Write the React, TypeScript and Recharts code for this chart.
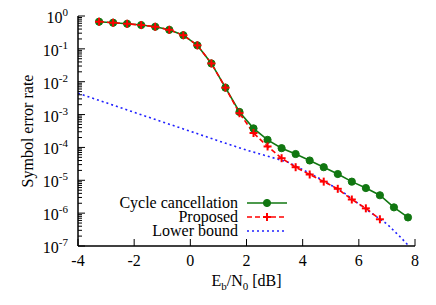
import React from "react";
import { LineChart, Line, XAxis, YAxis, Customized } from "recharts";

const ebn0 = [-3.25, -2.75, -2.25, -1.75, -1.25, -0.75, -0.25, 0.25, 0.75, 1.25, 1.75, 2.25, 2.75, 3.25, 3.75, 4.25, 4.75, 5.25, 5.75, 6.25, 6.75, 7.25, 7.75];
const cycleCancellation = [0.67, 0.625, 0.58, 0.53, 0.47, 0.38, 0.26, 0.128, 0.036, 0.0066, 0.0012, 3.8e-4, 1.7e-4, 9.5e-5, 6.3e-5, 4.0e-5, 2.5e-5, 1.55e-5, 9.1e-6, 5.8e-6, 3.5e-6, 1.5e-6, 7.4e-7];
const proposed = [0.67, 0.625, 0.58, 0.53, 0.47, 0.38, 0.26, 0.128, 0.036, 0.0066, 0.0011, 2.75e-4, 1.07e-4, 4.7e-5, 2.5e-5, 1.5e-5, 9.1e-6, 5.5e-6, 2.6e-6, 1.4e-6, 6.5e-7];
const boundEbn0 = [-4, -3, -2, -1, 0, 1, 2, 3, 3.5, 4, 4.5, 5, 5.5, 6, 6.5, 7, 7.5, 8];
const lowerBound = [4.47e-3, 2.29e-3, 1.17e-3, 6.0e-4, 3.1e-4, 1.58e-4, 8.3e-5, 4.7e-5, 3.5e-5, 2.1e-5, 1.26e-5, 7.2e-6, 4.0e-6, 1.9e-6, 9.3e-7, 4.7e-7, 1.8e-7, 6.3e-8];

const xTicks = [-4, -2, 0, 2, 4, 6, 8];
const decades = [-7, -6, -5, -4, -3, -2, -1];
const multipliers = [1, 2, 3, 4, 5, 6, 7, 8, 9];
const seriesNames = ["Cycle cancellation", "Proposed", "Lower bound"];

const yTicks: number[] = [];
decades.forEach((e) => multipliers.forEach((m) => yTicks.push(m * Math.pow(10, e))));
yTicks.push(1);

const ccData = ebn0.map((x, i) => ({ x, y: cycleCancellation[i] }));
const propData = proposed.map((y, i) => ({ x: ebn0[i], y }));
const lbData = boundEbn0.map((x, i) => ({ x, y: lowerBound[i] }));

const FONT = "'Liberation Serif', 'DejaVu Serif', serif";
const TXT: React.CSSProperties = { fontFamily: FONT };
const GREEN = "#117711";
const RED = "#ff0000";
const BLUE = "#2020ff";

const isMajor = (v: number) => {
  const e = Math.round(Math.log10(v));
  return Math.abs(v / Math.pow(10, e) - 1) < 1e-6;
};

const LeftTick = (props: any) => {
  const { x, y, payload } = props;
  const v = payload.value;
  const major = isMajor(v);
  const e = Math.round(Math.log10(v));
  return (
    <g>
      <line x1={x} x2={x + (major ? 7 : 4)} y1={y} y2={y} stroke="#000" strokeWidth={1} />
      {major && (
        <text x={x - 10} y={y + 7} textAnchor="end" style={TXT} fontSize={16} fill="#000">
          <tspan>10</tspan>
          <tspan dy={-7} fontSize={11}>{String(e)}</tspan>
        </text>
      )}
    </g>
  );
};

const RightTick = (props: any) => {
  const { x, y, payload } = props;
  const major = isMajor(payload.value);
  return <line x1={x} x2={x - (major ? 7 : 4)} y1={y} y2={y} stroke="#000" strokeWidth={1} />;
};

const BottomTick = (props: any) => {
  const { x, y, payload } = props;
  return (
    <g>
      <line x1={x} x2={x} y1={y} y2={y - 7} stroke="#000" strokeWidth={1} />
      <text x={x} y={y + 20} textAnchor="middle" style={TXT} fontSize={16} fill="#000">
        {String(payload.value)}
      </text>
    </g>
  );
};

const TopTick = (props: any) => {
  const { x, y } = props;
  return <line x1={x} x2={x} y1={y} y2={y + 7} stroke="#000" strokeWidth={1} />;
};

const Circle = (props: any) => {
  const { cx, cy, index } = props;
  if (cx == null || cy == null) return <g key={`c${index}`} />;
  return <circle key={`c${index}`} cx={cx} cy={cy} r={3.6} fill={GREEN} stroke={GREEN} />;
};

const Plus = (props: any) => {
  const { cx, cy, index } = props;
  if (cx == null || cy == null) return <g key={`p${index}`} />;
  return (
    <g key={`p${index}`}>
      <line x1={cx - 4} x2={cx + 4} y1={cy} y2={cy} stroke={RED} strokeWidth={2} />
      <line x1={cx} x2={cx} y1={cy - 4} y2={cy + 4} stroke={RED} strokeWidth={2} />
    </g>
  );
};

const Decorations = () => {
  const rows = [203, 217, 231];
  return (
    <g>
      <text
        x={33}
        y={131}
        transform="rotate(-90, 33, 131)"
        textAnchor="middle"
        style={TXT}
        fontSize={16}
        fill="#000"
      >
        Symbol error rate
      </text>
      <text x={246.5} y={286} textAnchor="middle" style={TXT} fontSize={16} fill="#000">
        <tspan>E</tspan>
        <tspan dy={4} fontSize={11}>b</tspan>
        <tspan dy={-4}>/N</tspan>
        <tspan dy={4} fontSize={11}>0</tspan>
        <tspan dy={-4}> [dB]</tspan>
      </text>
      {seriesNames.map((name, i) => (
        <text key={name} x={238} y={rows[i] + 5} textAnchor="end" style={TXT} fontSize={16} fill="#000">
          {name}
        </text>
      ))}
      <line x1={247} x2={287} y1={rows[0]} y2={rows[0]} stroke={GREEN} strokeWidth={1.6} />
      <circle cx={267} cy={rows[0]} r={3.6} fill={GREEN} stroke={GREEN} />
      <line x1={247} x2={287} y1={rows[1]} y2={rows[1]} stroke={RED} strokeWidth={1.6} strokeDasharray="5 3" />
      <line x1={263} x2={271} y1={rows[1]} y2={rows[1]} stroke={RED} strokeWidth={2} />
      <line x1={267} x2={267} y1={rows[1] - 4} y2={rows[1] + 4} stroke={RED} strokeWidth={2} />
      <line x1={247} x2={287} y1={rows[2]} y2={rows[2]} stroke={BLUE} strokeWidth={1.6} strokeDasharray="2 3" />
    </g>
  );
};

export default function App() {
  return (
    <div style={{ position: "absolute", left: 0, top: 0, width: 436, height: 305, background: "#fff", fontFamily: FONT }}>
      <LineChart width={436} height={305} margin={{ top: 16, right: 21, bottom: 0, left: 0 }} style={TXT}>
        <XAxis
          xAxisId="b"
          type="number"
          dataKey="x"
          domain={[-4, 8]}
          ticks={xTicks}
          interval={0}
          height={59}
          tickSize={0}
          tickMargin={0}
          tick={<BottomTick />}
          axisLine={{ stroke: "#000", strokeWidth: 1.5 }}
          tickLine={false}
          allowDataOverflow
        />
        <XAxis
          xAxisId="t"
          orientation="top"
          type="number"
          dataKey="x"
          domain={[-4, 8]}
          ticks={xTicks}
          interval={0}
          height={0}
          tickSize={0}
          tickMargin={0}
          tick={<TopTick />}
          axisLine={{ stroke: "#000", strokeWidth: 1.5 }}
          tickLine={false}
          allowDataOverflow
        />
        <YAxis
          yAxisId="l"
          type="number"
          scale="log"
          domain={[1e-7, 1]}
          ticks={yTicks}
          interval={0}
          width={78}
          tickSize={0}
          tickMargin={0}
          tick={<LeftTick />}
          axisLine={{ stroke: "#000", strokeWidth: 1.5 }}
          tickLine={false}
          allowDataOverflow
        />
        <YAxis
          yAxisId="r"
          orientation="right"
          type="number"
          scale="log"
          domain={[1e-7, 1]}
          ticks={yTicks}
          interval={0}
          width={0}
          tickSize={0}
          tickMargin={0}
          tick={<RightTick />}
          axisLine={{ stroke: "#000", strokeWidth: 1.5 }}
          tickLine={false}
          allowDataOverflow
        />
        <Line
          xAxisId="b"
          yAxisId="l"
          data={ccData}
          dataKey="y"
          stroke={GREEN}
          strokeWidth={1.6}
          dot={<Circle />}
          isAnimationActive={false}
        />
        <Line
          xAxisId="b"
          yAxisId="l"
          data={lbData}
          dataKey="y"
          stroke={BLUE}
          strokeWidth={1.6}
          strokeDasharray="2 3"
          dot={false}
          isAnimationActive={false}
        />
        <Line
          xAxisId="b"
          yAxisId="l"
          data={propData}
          dataKey="y"
          stroke={RED}
          strokeWidth={1.6}
          strokeDasharray="5 3"
          dot={<Plus />}
          isAnimationActive={false}
        />
        <Customized component={<Decorations />} />
      </LineChart>
    </div>
  );
}
